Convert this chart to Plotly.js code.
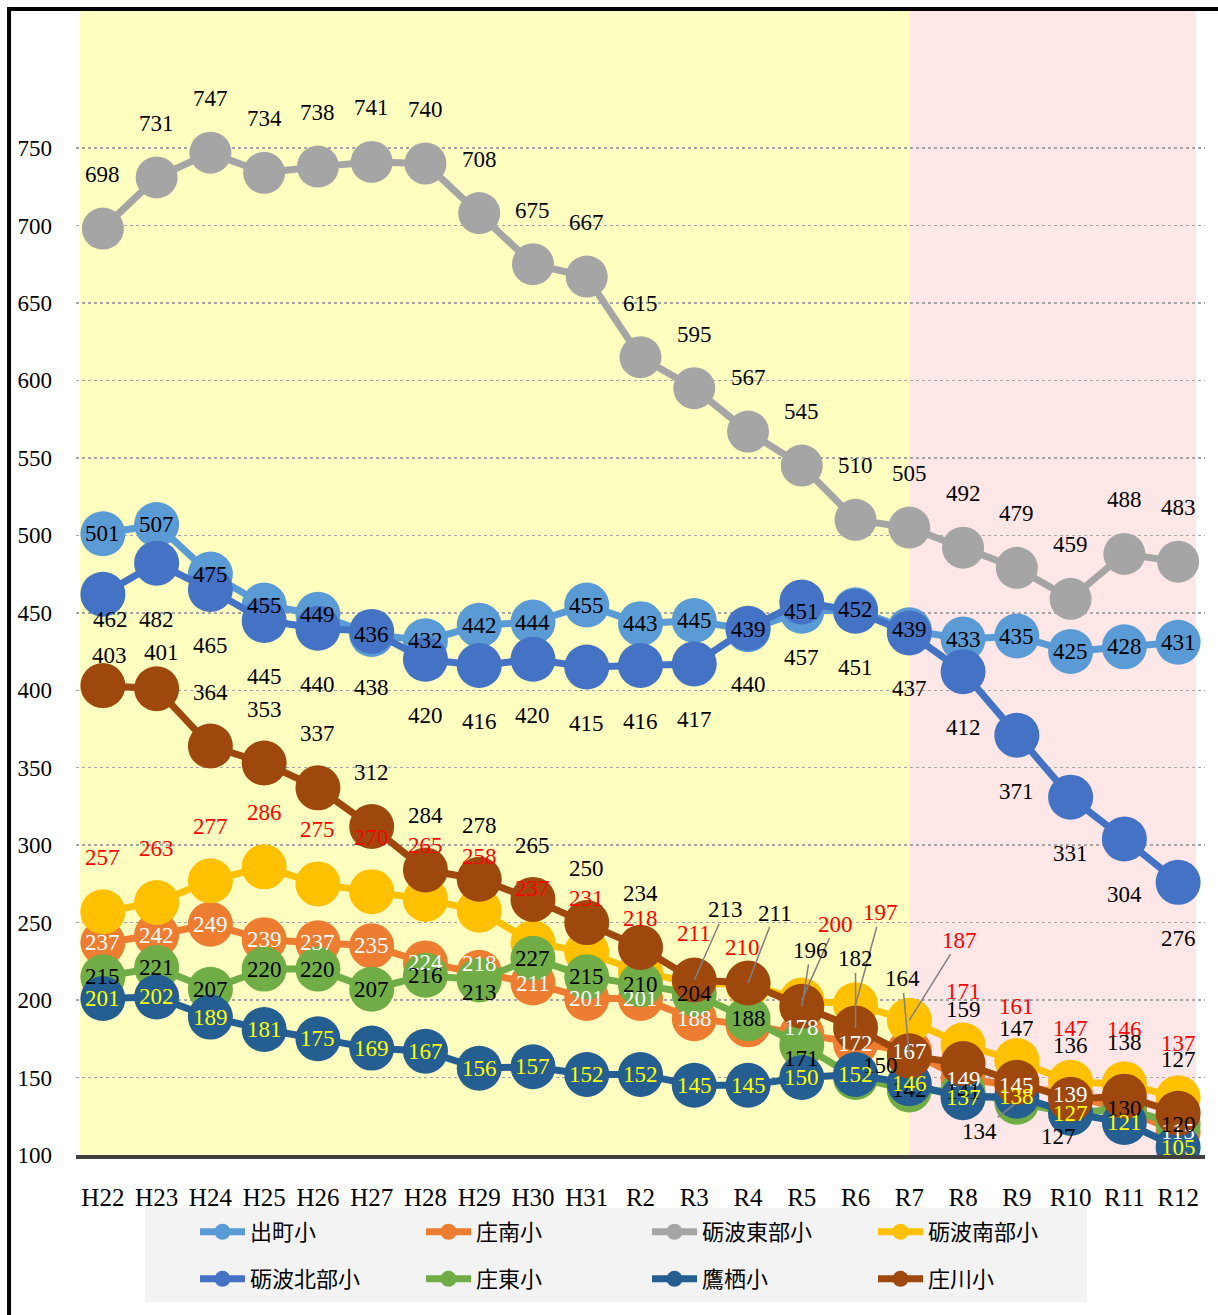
<!DOCTYPE html>
<html><head><meta charset="utf-8">
<script src="https://cdn.plot.ly/plotly-3.0.1.min.js"></script>
<style>body{margin:0;background:#fff}#chart{width:1218px;height:1315px}</style>
</head><body><div id="chart"></div>
<script>
const categories = ['H22','H23','H24','H25','H26','H27','H28','H29','H30','H31','R2','R3','R4','R5','R6','R7','R8','R9','R10','R11','R12'];
const seriesNames = ['出町小','庄南小','砺波東部小','砺波南部小','砺波北部小','庄東小','鷹栖小','庄川小'];
const demachi = [501,507,475,455,449,436,432,442,444,455,443,445,439,451,452,439,433,435,425,428,431];
const shonan  = [237,242,249,239,237,235,224,218,211,201,201,188,184,178,172,167,149,145,139,129,115];
const toubu   = [698,731,747,734,738,741,740,708,675,667,615,595,567,545,510,505,492,479,459,488,483];
const nanbu   = [257,263,277,286,275,270,265,258,237,231,218,211,210,200,197,187,171,161,147,146,137];
const hokubu  = [462,482,465,445,440,438,420,416,420,415,416,417,440,457,451,437,412,371,331,304,276];
const shoto   = [215,221,207,220,220,207,216,213,227,215,210,204,188,171,150,142,141,134,127,130,120];
const takasu  = [201,202,189,181,175,169,167,156,157,152,152,145,145,150,152,146,137,138,127,121,105];
const shogawa = [403,401,364,353,337,312,284,278,265,250,234,213,211,196,182,164,159,147,136,138,127];
const yTicks = [100,150,200,250,300,350,400,450,500,550,600,650,700,750];

const seriesValues = [demachi, shonan, toubu, nanbu, hokubu, shoto, takasu, shogawa];

// styles (kept apart from data)
const lineColors = ['#5B9BD5','#ED7D31','#A5A5A5','#FFC000','#4472C4','#70AD47','#255E91','#9E480E'];
const labelColors = ['#000000','#FFFFFF','#000000','#FF0000','#000000','#000000','#FFFF00','#000000'];
const labelDefaultDy = [0,0,54,54,-56,0,0,54];
const markerSizes = [45,45,42,45,45,45,45,45];
const labelOverrides = {
  1: {7:{dy:9},12:{hide:true},13:{dy:7},19:{hide:true}},
  3: {11:{dy:50},12:{dx:-6,dy:37},13:{arrow:true,dx:34,dy:76},14:{arrow:true,dx:25,dy:92},15:{arrow:true,dx:50,dy:80}},
  4: {0:{dx:8,dy:-25}},
  5: {7:{dy:-13},13:{dy:-13},14:{dx:25,dy:12},17:{arrow:true,dx:-37,dy:-29},18:{dx:-12,dy:-23}},
  7: {0:{dx:7,dy:30},1:{dx:5,dy:36},11:{arrow:true,dx:31,dy:70},12:{arrow:true,dx:27,dy:70},13:{arrow:true,dx:9,dy:56},14:{arrow:true,dx:0,dy:69},15:{arrow:true,dx:-7,dy:77}}
};

const serif = 'Liberation Serif, Times New Roman, serif';
const traces = seriesValues.map((vals, s) => ({
  type: 'scatter', mode: 'lines+markers',
  x: categories, y: vals, name: seriesNames[s],
  legend: s < 4 ? 'legend' : 'legend2',
  line: {color: lineColors[s], width: 7},
  marker: {color: lineColors[s], size: markerSizes[s]},
  hoverinfo: 'x+y+name'
}));

const annotations = [];
seriesValues.forEach((vals, s) => {
  vals.forEach((v, i) => {
    const o = (labelOverrides[s] && labelOverrides[s][i]) || {};
    if (o.hide) return;
    const dx = o.dx || 0;
    const dy = (o.dy !== undefined) ? o.dy : labelDefaultDy[s];
    const a = {
      x: i, y: v, xref: 'x', yref: 'y', text: String(v),
      font: {family: serif, size: 23, color: labelColors[s]}
    };
    if (o.arrow) {
      Object.assign(a, {showarrow: true, ax: dx, ay: -dy, arrowhead: 0, arrowwidth: 1.5, arrowcolor: '#808080', standoff: 0});
    } else {
      Object.assign(a, {showarrow: false, xshift: dx, yshift: dy});
    }
    annotations.push(a);
  });
});

const layout = {
  width: 1218, height: 1315,
  margin: {l: 76, r: 13, t: 10, b: 160},
  paper_bgcolor: '#FFFFFF', plot_bgcolor: 'rgba(0,0,0,0)',
  xaxis: {
    type: 'category', range: [-0.5, 20.5], showgrid: false, zeroline: false,
    showline: true, linecolor: '#404040', linewidth: 4, ticks: '',
    tickfont: {family: serif, size: 25, color: '#000'}, ticklabelstandoff: 17, automargin: false
  },
  yaxis: {
    range: [100, 839.1], tickvals: yTicks, showgrid: true, gridcolor: '#A6A6A6', griddash: 'dot', gridwidth: 1.5,
    zeroline: false, showline: false, ticks: '',
    tickfont: {family: serif, size: 23, color: '#000'}, ticklabelstandoff: 23, automargin: false
  },
  showlegend: true,
  legend: {orientation: 'h', x: 0.1054, xanchor: 'left', y: -0.0672, yanchor: 'middle',
    bgcolor: 'rgba(0,0,0,0)', itemwidth: 45, entrywidth: 166, itemsizing: 'trace',
    font: {family: 'Noto Sans CJK JP', size: 22, color: '#000'}},
  legend2: {orientation: 'h', x: 0.1054, xanchor: 'left', y: -0.1083, yanchor: 'middle',
    bgcolor: 'rgba(0,0,0,0)', itemwidth: 45, entrywidth: 166, itemsizing: 'trace',
    font: {family: 'Noto Sans CJK JP', size: 22, color: '#000'}},
  shapes: [
    {type: 'rect', layer: 'below', xref: 'x', yref: 'paper', x0: -0.43, x1: 15, y0: 0, y1: 1, fillcolor: '#FFFFC0', line: {width: 0}},
    {type: 'rect', layer: 'below', xref: 'x', yref: 'paper', x0: 15, x1: 20.33, y0: 0, y1: 1, fillcolor: '#FFE7E7', line: {width: 0}},
    {type: 'rect', layer: 'below', xref: 'paper', yref: 'paper', x0: 0.0611, x1: 0.8955, y0: -0.1284, y1: -0.0463, fillcolor: '#F3F3F3', line: {width: 0}},
    {type: 'rect', layer: 'above', xref: 'paper', yref: 'paper', x0: -0.0593, x1: 1.05, y0: -0.2, y1: 1.0009, fillcolor: 'rgba(0,0,0,0)', line: {color: '#000', width: 4}}
  ],
  annotations: annotations
};

Plotly.newPlot('chart', traces, layout, {displayModeBar: false, staticPlot: true});
</script>
</body></html>
